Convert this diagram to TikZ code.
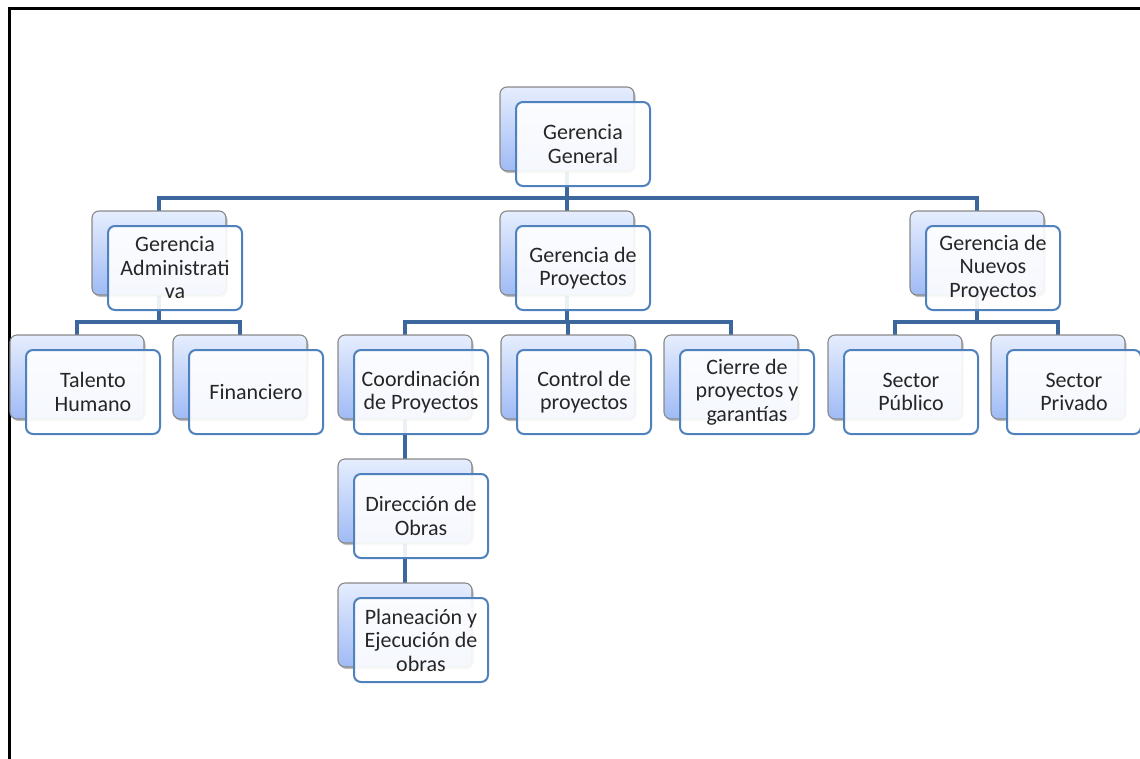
\documentclass[tikz,border=0pt]{standalone}
\usepackage{fontspec}
\setmainfont{Carlito}
\usetikzlibrary{backgrounds,shadows}

\definecolor{frontline}{HTML}{4F81BD}
\definecolor{backtop}{HTML}{E6EEFE}
\definecolor{backbottom}{HTML}{9FBAF5}
\definecolor{backline}{HTML}{888888}
\definecolor{connline}{HTML}{3B679C}
\definecolor{labeltext}{HTML}{262626}

\tikzset{
  backbox/.style={rectangle, rounded corners=7pt, minimum width=134pt, minimum height=84pt,
    draw=backline, line width=1.1pt, top color=backtop, bottom color=backbottom,
    drop shadow={shadow xshift=1.5pt, shadow yshift=-2pt, opacity=0.25, fill=black}},
  frontbox/.style={rectangle, rounded corners=7pt, minimum width=134pt, minimum height=84pt,
    draw=frontline, line width=2pt, fill=white, fill opacity=0.9, text opacity=1,
    align=center, text=labeltext, inner sep=2pt,
    font=\fontsize{22}{23.5}\selectfont},
  conn/.style={draw=connline, line width=4pt},
  frame/.style={draw=black, line width=3pt}
}

% one organisational unit: shaded back card with an outlined card on top
\newcommand\orgunit[4]{%
  \node[backbox] (#1-b) at (#2+67, #3+42) {};
  \node[frontbox] (#1) at (#2+83, #3+57) {#4};
}

\begin{document}
\begin{tikzpicture}[x=1pt, y=-1pt]
  \useasboundingbox (0,0) rectangle (1140,758);
  \draw[frame] (9.5,760) -- (9.5,8.5) -- (1142,8.5);

  % top level
  \orgunit{gg}{500}{87}{Gerencia\\General}
  % second level
  \orgunit{ga}{92}{211}{Gerencia\\Administrati\\va}
  \orgunit{gp}{500}{211}{Gerencia de\\Proyectos}
  \orgunit{gn}{910}{211}{Gerencia de\\Nuevos\\Proyectos}
  % third level
  \orgunit{th}{10}{335}{Talento\\Humano}
  \orgunit{fi}{173}{335}{Financiero}
  \orgunit{cp}{338}{335}{Coordinación\\de Proyectos}
  \orgunit{cc}{501}{335}{Control de\\proyectos}
  \orgunit{ci}{664}{335}{Cierre de\\proyectos y\\garantías}
  \orgunit{sp}{828}{335}{Sector\\Público}
  \orgunit{sv}{991}{335}{Sector\\Privado}
  % project coordination chain
  \orgunit{do}{338}{459}{Dirección de\\Obras}
  \orgunit{pe}{338}{583}{Planeación y\\Ejecución de\\obras}

  % bus heights
  \coordinate (bus1) at (0,198);
  \coordinate (bus2) at (0,322);

  \begin{pgfonlayer}{background}
    \foreach \c in {ga,gp,gn}
      \draw[conn] (gg-b.center) -- (gg-b.center |- bus1) -| (\c-b.center);
    \foreach \c in {th,fi}
      \draw[conn] (ga-b.center) -- (ga-b.center |- bus2) -| (\c-b.center);
    \foreach \c in {cp,cc,ci}
      \draw[conn] (gp-b.center) -- (gp-b.center |- bus2) -| (\c-b.center);
    \foreach \c in {sp,sv}
      \draw[conn] (gn-b.center) -- (gn-b.center |- bus2) -| (\c-b.center);
    \draw[conn] (cp-b.center) -- (do-b.center) -- (pe-b.center);
  \end{pgfonlayer}
\end{tikzpicture}
\end{document}
